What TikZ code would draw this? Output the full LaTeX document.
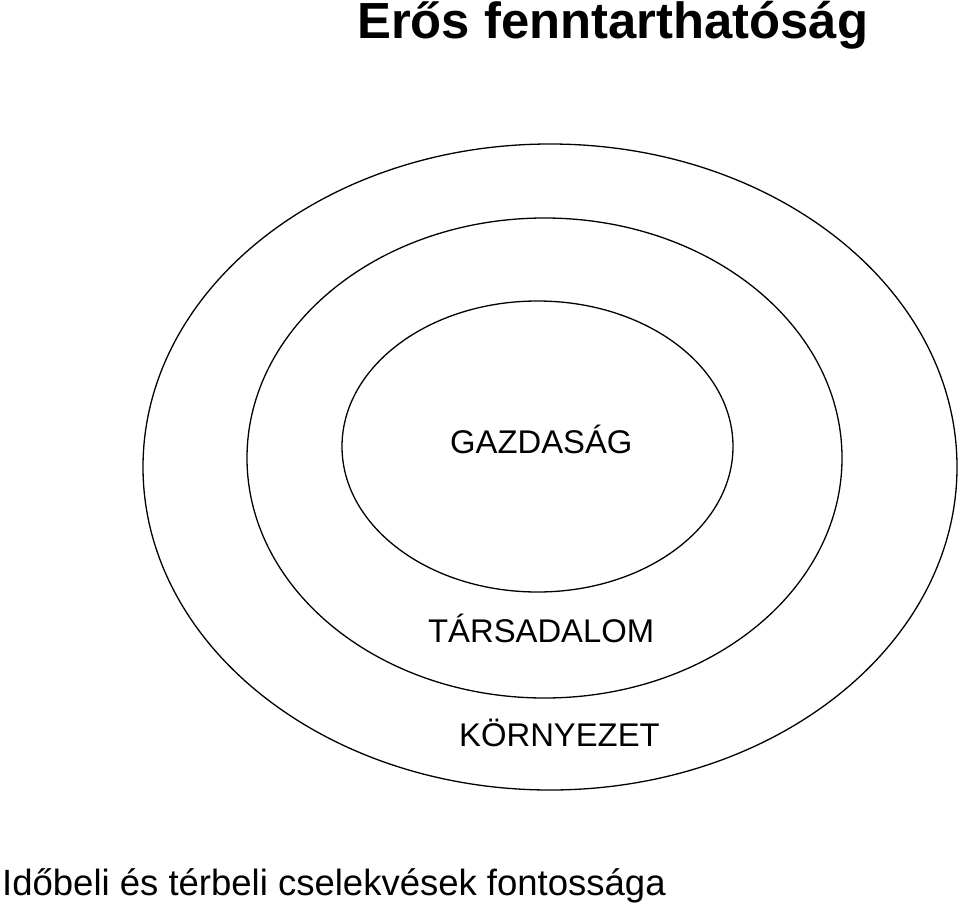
\documentclass[tikz,border=0pt]{standalone}
\usepackage{fontspec}
\setmainfont{Liberation Sans}
\usetikzlibrary{shapes.geometric}
\begin{document}
\begin{tikzpicture}[x=1pt,y=1pt,
  ring/.style={draw=black,line width=1.3pt,ellipse,inner sep=0pt,minimum width=2*#1},
  lbl/.style={inner sep=0pt,anchor=base west,font=\fontsize{32.8}{36}\selectfont}]
\useasboundingbox (0,0) rectangle (960,-907);
\draw[line width=1.3pt] (550,-467) ellipse [x radius=407,y radius=323];
\draw[line width=1.3pt] (544.5,-458) ellipse [x radius=297.5,y radius=240];
\draw[line width=1.3pt] (537.5,-446.5) ellipse [x radius=195.5,y radius=145.5];
\node[inner sep=0pt,anchor=base west,font=\fontsize{50.8}{56}\selectfont\bfseries] (title) at (357,-38) {Erős fenntarthatóság};
\node[lbl] (gaz) at (450,-453) {GAZDASÁG};
\node[lbl] (tar) at (428,-642) {TÁRSADALOM};
\node[lbl] (kor) at (459,-746) {KÖRNYEZET};
\node[inner sep=0pt,anchor=base west,font=\fontsize{36.5}{40}\selectfont] (foot) at (2,-895) {Időbeli és térbeli cselekvések fontossága};
\end{tikzpicture}
\end{document}
